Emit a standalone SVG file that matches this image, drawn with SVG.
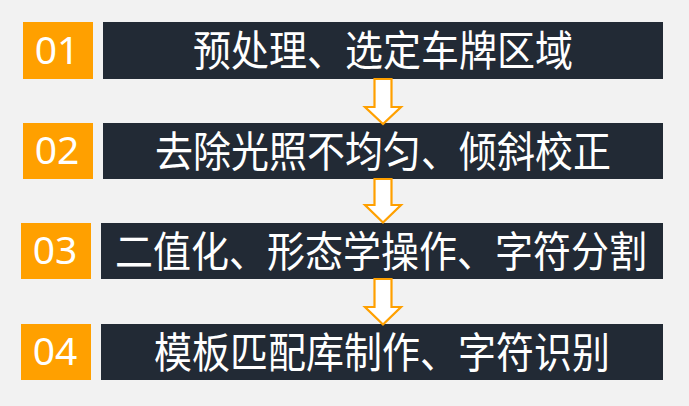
<svg xmlns="http://www.w3.org/2000/svg" width="689" height="406" viewBox="0 0 689 406">
<style>
.num{fill:#FFA000}
.bar{fill:#222A35}
.nt{font-family:"Noto Sans","Open Sans","Liberation Sans",sans-serif;font-size:39px;fill:#FFFFFF;text-anchor:middle}
.lt{font-family:"Noto Sans CJK SC","Noto Sans",sans-serif;font-size:38px;fill:#FFFFFF;text-anchor:middle}
.arr{fill:#FFFFFF;stroke:#FFA000;stroke-width:2.2;stroke-linejoin:miter}
</style>
<rect width="689" height="406" fill="#F2F2F2"/>
<g id="step1">
<rect class="num" x="23" y="22" width="70" height="57"/>
<text class="nt" x="57" y="63.5">01</text>
<rect class="bar" x="103" y="22" width="560" height="57"/>
<text class="lt" transform="translate(383,50) scale(1,1.1)" x="0" y="14.4">预处理、选定车牌区域</text>
</g>
<g id="step2">
<rect class="num" x="23" y="123" width="70" height="56"/>
<text class="nt" x="57" y="164">02</text>
<rect class="bar" x="103" y="123" width="560" height="56"/>
<text class="lt" transform="translate(383,151) scale(1,1.1)" x="0" y="14.4">去除光照不均匀、倾斜校正</text>
</g>
<g id="step3">
<rect class="num" x="21" y="223" width="70" height="56"/>
<text class="nt" x="55" y="264">03</text>
<rect class="bar" x="101" y="223" width="562" height="56"/>
<text class="lt" transform="translate(381,251) scale(1,1.1)" x="0" y="14.4">二值化、形态学操作、字符分割</text>
</g>
<g id="step4">
<rect class="num" x="21" y="324" width="70" height="56"/>
<text class="nt" x="55" y="365">04</text>
<rect class="bar" x="101" y="324" width="562" height="56"/>
<text class="lt" transform="translate(382,352) scale(1,1.1)" x="0" y="14.4">模板匹配库制作、字符识别</text>
</g>
<g id="connectors">
<polygon class="arr" points="374.5,79 391.5,79 391.5,107 401,107 383,124 365,107 374.5,107"/>
<polygon class="arr" points="374.5,179 391.5,179 391.5,205 401,205 383,222.5 365,205 374.5,205"/>
<polygon class="arr" points="374.5,279 391.5,279 391.5,307 401,307 383,324.5 365,307 374.5,307"/>
</g>
</svg>
